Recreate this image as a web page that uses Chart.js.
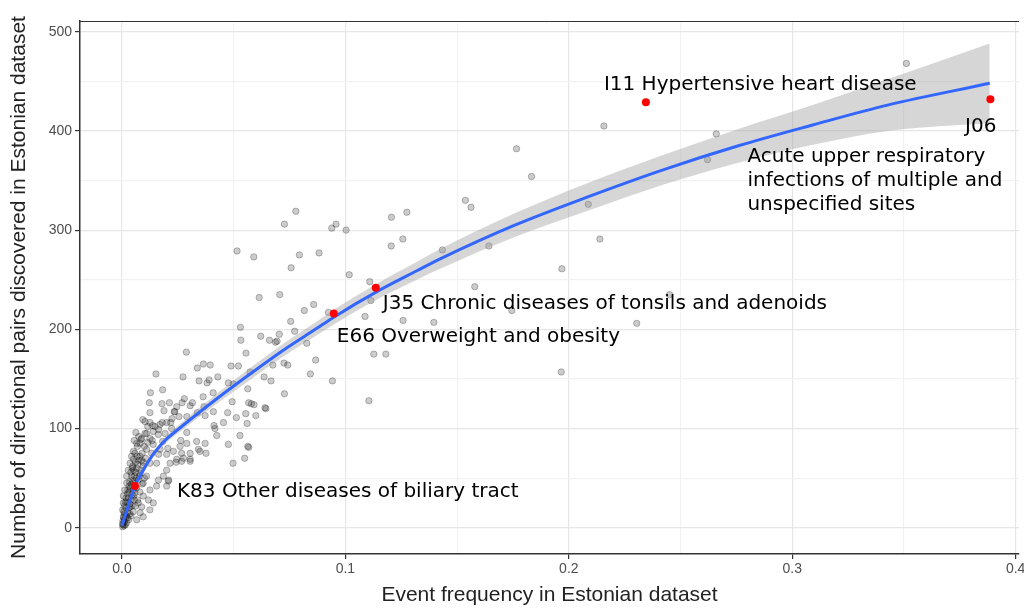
<!DOCTYPE html>
<html>
<head>
<meta charset="utf-8">
<script src="https://cdn.jsdelivr.net/npm/chart.js@4.4.1/dist/chart.umd.min.js"></script>
<style>
  html, body { margin: 0; padding: 0; background: #fff; }
  #wrap { width: 1024px; height: 608px; }
</style>
</head>
<body>
<div id="wrap"><canvas id="chart"></canvas></div>
<script>
// tick values + labels (minor grid lines get an empty label)
const xTickValues = [0, 0.05, 0.1, 0.15, 0.2, 0.25, 0.3, 0.35, 0.4]
const xTickLabels = ['0.0', '', '0.1', '', '0.2', '', '0.3', '', '0.4']
const yTickValues = [0, 50, 100, 150, 200, 250, 300, 350, 400, 450, 500]
const yTickLabels = ['0', '', '100', '', '200', '', '300', '', '400', '', '500']

// all other codes: [event frequency, number of directional pairs]
const otherCodes = [
  [0.2157,405],[0.1766,382],[0.1833,354],[0.1537,330],[0.1562,323],[0.1275,318],[0.1257,291],[0.1434,280],
  [0.1642,284],[0.2087,326],[0.2139,291],[0.1969,261],[0.1579,243],[0.2451,235],[0.1745,219],[0.1258,209],
  [0.1396,207],[0.2304,206],[0.1966,157],[0.3511,468],[0.2660,397],[0.2621,371],
  [0.0778,319],[0.0727,306],[0.0939,302],[0.0958,306],[0.1003,300],[0.1206,313],[0.1205,284],[0.0515,279],
  [0.0590,273],[0.0794,275],[0.0882,277],[0.0757,262],[0.1017,255],[0.1109,248],[0.0614,232],[0.0706,235],
  [0.0858,225],[0.0816,219],[0.0924,217],[0.1114,229],[0.1088,213],[0.1127,175],[0.1181,175],[0.0755,208],
  [0.0530,202],[0.0621,193],[0.0704,195],[0.0773,198],[0.0532,189],[0.0660,189],[0.0687,187],[0.0827,186],
  [0.0555,176],[0.0867,169],[0.0488,163],[0.0521,163],[0.0675,164],[0.0725,166],[0.0742,164],[0.0843,155],
  [0.0942,148],[0.0573,157],[0.0636,152],[0.0667,148],[0.0476,146],[0.0498,145],[0.0563,140],[0.0727,135],
  [0.1105,128],[0.0493,127],[0.0567,126],[0.0591,124],[0.0640,121],[0.0694,188],[0.0579,125],[0.0644,120],
  [0.0288,177],[0.0152,155],[0.0273,152],[0.0364,165],[0.0395,164],[0.0337,161],[0.0345,148],[0.0390,149],
  [0.0381,146],[0.0429,152],[0.0127,136],[0.0182,139],[0.0363,132],[0.0408,136],[0.0122,126],[0.0179,125],
  [0.0212,126],[0.0279,130],[0.0315,126],[0.0245,122],[0.0125,116],[0.0188,118],[0.0236,117],[0.0367,122],
  [0.0473,116],[0.0224,110],[0.0290,112],[0.0454,106],[0.0512,111],[0.0560,105],[0.0599,113],[0.0416,100],
  [0.0093,109],[0.0424,93],[0.0528,93],[0.0334,87],[0.0372,85],[0.0476,84],[0.0563,82],
  [0.0115,102],[0.0137,103],[0.0180,106],[0.0164,99],[0.0103,95],[0.0085,89],[0.0069,82],[0.0058,75],
  [0.0051,69],[0.0048,62],[0.0182,87],[0.0205,80],[0.0164,74],[0.0263,88],[0.0290,96],[0.0342,79],
  [0.0376,75],[0.0305,69],[0.0267,75],[0.0242,66],[0.0209,48],[0.0497,65],[0.0549,70],[0.0567,81],
  [0.0412,103],[0.0554,115],[0.0409,117],[0.0372,113],[0.0337,116],[0.0269,126],[0.0305,123],[0.0234,117],
  [0.0255,112],[0.0218,106],
  [0.0103,107],[0.0125,106],[0.0148,102],[0.0170,104],[0.0200,106],[0.0222,100],[0.0193,95],[0.0163,94],
  [0.0140,97],[0.0110,95],[0.0088,90],[0.0066,85],[0.0051,77],[0.0043,72],[0.0036,65],[0.0028,58],
  [0.0021,52],[0.0021,45],[0.0013,38],[0.0006,32],[0.0006,25],[0.0003,18],[0.0006,11],[0.0081,85],
  [0.0110,79],[0.0140,84],[0.0133,75],[0.0170,79],[0.0200,74],[0.0230,77],[0.0260,82],[0.0290,85],
  [0.0349,77],[0.0305,75],[0.0275,70],[0.0245,69],[0.0215,65],[0.0200,58],[0.0185,52],[0.0155,65],
  [0.0125,65],[0.0095,62],[0.0081,55],[0.0095,45],[0.0110,52],[0.0125,38],[0.0095,32],[0.0088,21],
  [0.0081,15],[0.0066,8],[0.0043,52],[0.0051,45],[0.0051,32],[0.0036,21],[0.0305,67],[0.0267,67],
  [0.0207,47],[0.0200,42],[0.0163,48],[0.0155,42],[0.0118,28],[0.0140,25],[0.0125,18],[0.0095,11],
  [0.0073,25],[0.0058,35],
  [0.0005,3],[0.0010,6],[0.0015,9],[0.0020,12],[0.0025,15],[0.0030,20],[0.0035,24],[0.0040,28],
  [0.0045,33],[0.0050,38],[0.0008,10],[0.0012,14],[0.0018,20],[0.0022,26],[0.0028,30],[0.0032,36],
  [0.0038,40],[0.0042,44],[0.0048,48],[0.0055,52],[0.0060,56],[0.0065,60],[0.0070,64],[0.0075,68],
  [0.0080,72],[0.0003,1],[0.0002,4],[0.0010,2],[0.0020,5],[0.0030,8],[0.0040,12],[0.0050,16],
  [0.0060,22],[0.0070,28],[0.0080,36],[0.0090,44],[0.0100,50],[0.0085,58],[0.0095,66],[0.0105,70],
  [0.0115,86],[0.0125,90],[0.0135,88],[0.0075,92],[0.0062,96],[0.0055,88],[0.0015,3],[0.0025,10],
  [0.0035,14],[0.0045,22],[0.0055,28],[0.0065,40],[0.0072,48],[0.0078,52],[0.0012,22],[0.0018,30],
  [0.0026,38],[0.0034,46],[0.0040,56],[0.0046,60],[0.0060,66],[0.0068,72],[0.0090,75],[0.0100,82],
  [0.0004,7],[0.0008,16],[0.0016,26],[0.0024,34],[0.0032,42],[0.0052,58],[0.0064,50],[0.0088,68]
]

// highlighted codes
const hiCodes = ['I11', 'J06', 'J35', 'E66', 'K83']
const hiFreq = [0.2345, 0.3887, 0.1136, 0.0948, 0.0058]
const hiPairs = [429, 432, 242, 216, 42]
const hiNames = [
  ['Hypertensive heart disease'],
  ['Acute upper respiratory', 'infections of multiple and', 'unspecified sites'],
  ['Chronic diseases of tonsils and adenoids'],
  ['Overweight and obesity'],
  ['Other diseases of biliary tract']
]

// loess fit and its confidence half-width
const fitFreq = [0, 0.0058, 0.0095, 0.0133, 0.0170, 0.0200, 0.0275, 0.0424, 0.0573, 0.0722, 0.0872, 0.0946,
  0.1141, 0.1320, 0.1424, 0.1758, 0.2091, 0.2425, 0.2759, 0.3092, 0.3426, 0.3884]
const fitPairs = [2, 42, 58, 72, 82.5, 89.5, 103.5, 130, 155, 179, 201, 212, 238, 259, 271, 305, 334, 361, 385, 406, 426, 448]
const fitSe = [1.5, 2.5, 3, 3, 3, 3.5, 4, 5, 6, 6.5, 7, 7.5, 8, 9, 10, 12, 14, 15, 17, 20, 26, 40]

const fitLine = fitFreq.map((x, i) => ({ x, y: fitPairs[i] }))
const fitUpper = fitFreq.map((x, i) => ({ x, y: fitPairs[i] + fitSe[i] }))
const fitLower = fitFreq.map((x, i) => ({ x, y: fitPairs[i] - fitSe[i] }))

// label placement relative to each red point (px)
const labelStyle = {
  I11: { dx: -42, dy: -17 },
  J06: { dx: 6, dy: 28, descDx: -243, descDy: 58 },
  J35: { dx: 7, dy: 16 },
  E66: { dx: 3, dy: 23 },
  K83: { dx: 42, dy: 6 }
}

const labelPlugin = {
  id: 'codeLabels',
  afterDatasetsDraw(chart) {
    const { ctx, scales: { x, y }, chartArea } = chart
    ctx.save()
    // panel border on top
    ctx.strokeStyle = '#333'
    ctx.lineWidth = 1
    ctx.beginPath()
    ctx.moveTo(chartArea.left, chartArea.top + 0.5)
    ctx.lineTo(chartArea.right, chartArea.top + 0.5)
    ctx.stroke()

    ctx.font = '20px "DejaVu Sans"'
    ctx.fillStyle = '#000'
    ctx.textBaseline = 'middle'
    hiCodes.forEach((code, i) => {
      const px = x.getPixelForValue(hiFreq[i])
      const py = y.getPixelForValue(hiPairs[i])
      const st = labelStyle[code]
      if (code === 'J06') {
        ctx.textAlign = 'right'
        ctx.fillText(code, px + st.dx, py + st.dy)
        ctx.textAlign = 'left'
        hiNames[i].forEach((line, k) => {
          ctx.fillText(line, px + st.descDx, py + st.descDy + k * 24)
        })
      } else {
        ctx.textAlign = 'left'
        ctx.fillText(code + ' ' + hiNames[i][0], px + st.dx, py + st.dy)
      }
    })
    ctx.restore()
  }
}

const gridColor = ctx => ctx.tick && ctx.tick.label === '' ? '#f2f2f2' : '#e6e6e6'
const tickColor = ctx => ctx.tick && ctx.tick.label === '' ? 'rgba(0,0,0,0)' : '#333'

new Chart(document.getElementById('chart'), {
  data: {
    datasets: [
      {
        type: 'scatter',
        data: hiFreq.map((x, i) => ({ x, y: hiPairs[i] })),
        pointRadius: 4,
        pointBackgroundColor: '#ff0000',
        pointBorderWidth: 0,
        order: 0
      },
      {
        type: 'line',
        data: fitLine,
        borderColor: '#3366ff',
        borderWidth: 3,
        pointRadius: 0,
        cubicInterpolationMode: 'monotone',
        fill: false,
        order: 1
      },
      {
        type: 'line',
        data: fitUpper,
        borderWidth: 0,
        borderColor: 'rgba(0,0,0,0)',
        pointRadius: 0,
        cubicInterpolationMode: 'monotone',
        backgroundColor: 'rgba(153,153,153,0.4)',
        fill: '+1',
        order: 2
      },
      {
        type: 'line',
        data: fitLower,
        borderWidth: 0,
        borderColor: 'rgba(0,0,0,0)',
        pointRadius: 0,
        cubicInterpolationMode: 'monotone',
        fill: false,
        order: 3
      },
      {
        type: 'scatter',
        data: otherCodes.map(p => ({ x: p[0], y: p[1] })),
        pointRadius: 3.2,
        pointBackgroundColor: 'rgba(0,0,0,0.2)',
        pointBorderColor: 'rgba(0,0,0,0.25)',
        pointBorderWidth: 1,
        order: 4
      }
    ]
  },
  options: {
    responsive: true,
    maintainAspectRatio: false,
    animation: false,
    layout: { padding: { top: 21, right: 0, bottom: 0, left: 0 } },
    plugins: { legend: { display: false }, tooltip: { enabled: false } },
    scales: {
      x: {
        type: 'linear',
        min: -0.0188,
        max: 0.4015,
        afterBuildTicks: s => { s.ticks = xTickValues.map(v => ({ value: v })) },
        afterFit: s => { s.height = 54; s.paddingLeft = 0; s.paddingRight = 0 },
        ticks: {
          callback: (v, i) => xTickLabels[i],
          color: '#4d4d4d',
          font: { family: 'Liberation Sans', size: 14 },
          padding: 2,
          maxRotation: 0,
          autoSkip: false
        },
        grid: { color: gridColor, tickColor, lineWidth: 1.2, tickLength: 5 },
        border: { color: '#333', width: 1.5 },
        title: {
          display: true,
          text: 'Event frequency in Estonian dataset',
          color: '#222',
          font: { family: 'Liberation Sans', size: 21 },
          padding: { top: 0, bottom: 0 }
        }
      },
      y: {
        type: 'linear',
        min: -26.5,
        max: 510.8,
        afterBuildTicks: s => { s.ticks = yTickValues.map(v => ({ value: v })) },
        afterFit: s => { s.width = 80 },
        ticks: {
          callback: (v, i) => yTickLabels[i],
          color: '#4d4d4d',
          font: { family: 'Liberation Sans', size: 14 },
          padding: 3,
          autoSkip: false
        },
        grid: { color: gridColor, tickColor, lineWidth: 1.2, tickLength: 5 },
        border: { color: '#333', width: 1.5 },
        title: {
          display: true,
          text: 'Number of directional pairs discovered in Estonian dataset',
          color: '#222',
          font: { family: 'Liberation Sans', size: 21 },
          padding: { top: 7, bottom: 0 }
        }
      }
    }
  },
  plugins: [labelPlugin]
})
</script>
</body>
</html>
